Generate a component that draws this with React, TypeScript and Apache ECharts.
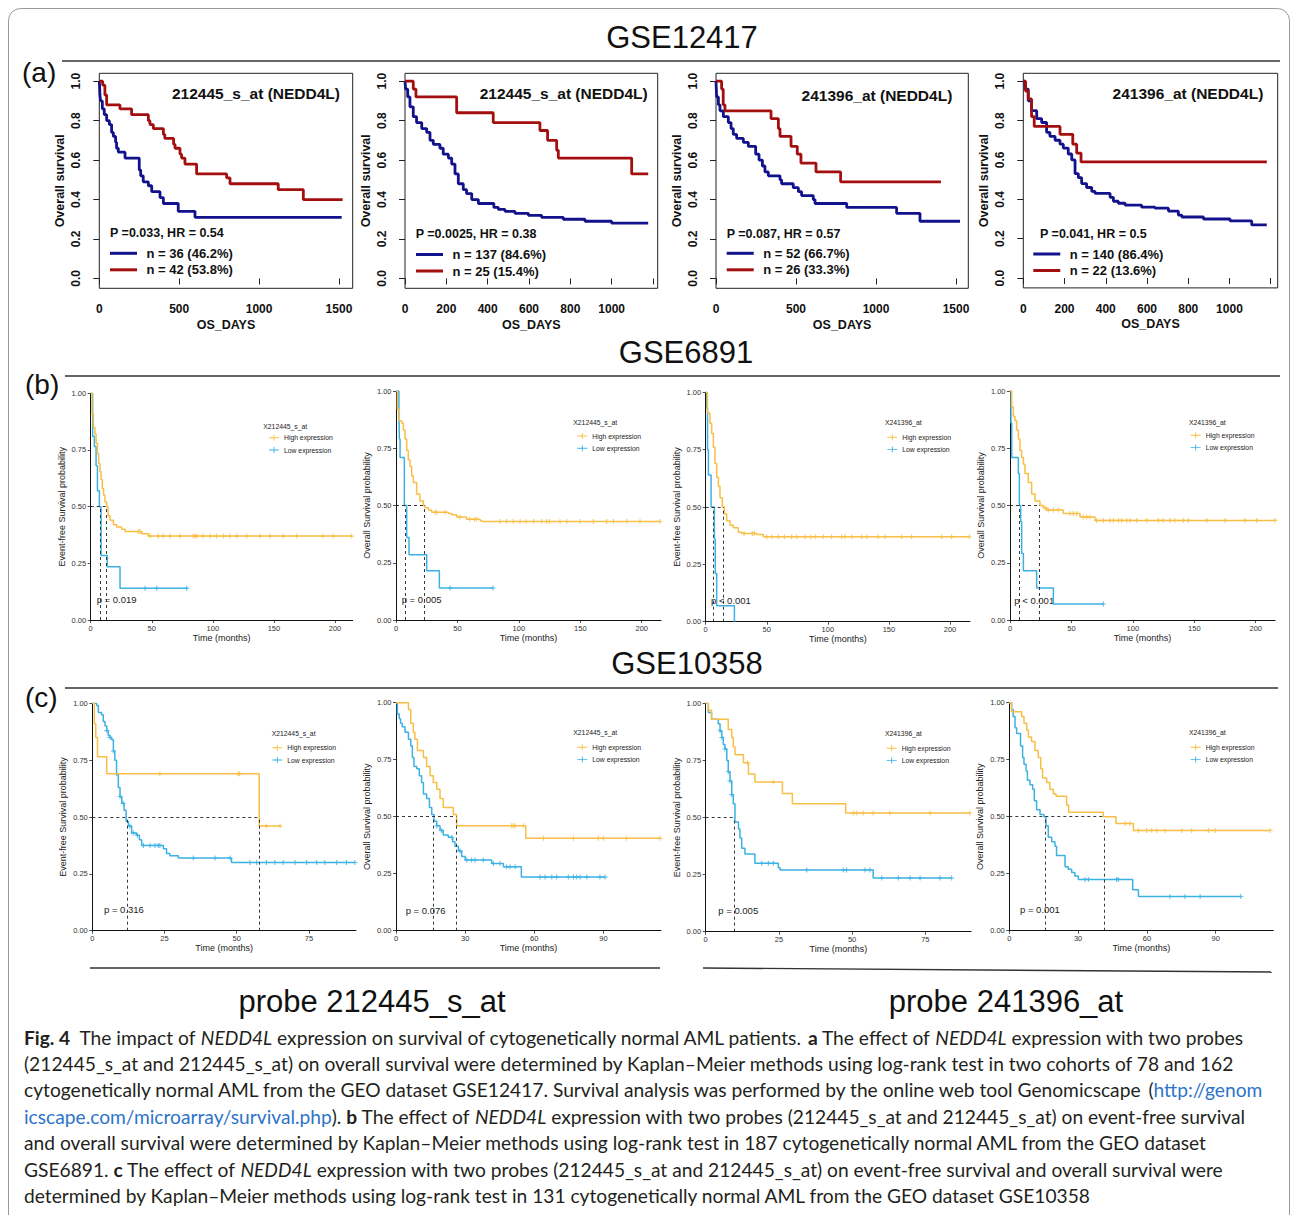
import React, { useEffect, useRef } from 'react';
import * as echarts from 'echarts';

const FONT = "'Liberation Sans', Arial, sans-serif";
const CAP_FONT = "Lato, 'Liberation Sans', sans-serif";
const BLUE_A = '#12128c';
const RED_A = '#a30f0f';
const YEL = '#f8be45';
const BLU = '#3bb2e3';

// ---------- (a) GSE12417 : [days, survival] ----------
const a1Blue = [[0,1],[2,0.97],[4,0.93],[8,0.90],[19,0.86],[31,0.83],[46,0.80],[63,0.78],[77,0.74],[88,0.72],[102,0.69],[108,0.66],[119,0.64],[161,0.61],[250,0.55],[259,0.52],[275,0.49],[307,0.47],[328,0.44],[380,0.41],[401,0.38],[494,0.34],[599,0.31],[1517,0.31]];
const a1Red = [[0,1],[21,0.98],[35,0.93],[46,0.88],[129,0.86],[202,0.83],[307,0.80],[317,0.78],[338,0.76],[401,0.73],[410,0.71],[465,0.68],[474,0.66],[505,0.63],[515,0.61],[536,0.58],[609,0.53],[797,0.51],[818,0.48],[1120,0.45],[1277,0.40],[1523,0.40]];
const a2Blue = [[0,1],[3,0.96],[13,0.92],[24,0.87],[40,0.82],[56,0.79],[81,0.76],[105,0.74],[121,0.70],[137,0.68],[169,0.66],[185,0.63],[210,0.61],[226,0.58],[242,0.53],[258,0.48],[282,0.45],[298,0.43],[323,0.40],[355,0.38],[430,0.36],[452,0.35],[484,0.34],[532,0.33],[597,0.32],[661,0.31],[766,0.30],[871,0.29],[1000,0.28],[1177,0.28]];
const a2Red = [[0,1],[40,0.96],[53,0.92],[250,0.84],[427,0.79],[653,0.75],[690,0.70],[734,0.65],[742,0.61],[1097,0.53],[1177,0.53]];
const a3Blue = [[0,1],[4,0.92],[15,0.88],[25,0.85],[46,0.82],[77,0.79],[94,0.76],[108,0.73],[129,0.71],[171,0.69],[202,0.67],[248,0.63],[269,0.60],[290,0.57],[306,0.54],[327,0.52],[400,0.50],[410,0.48],[483,0.46],[515,0.44],[535,0.42],[608,0.40],[619,0.38],[817,0.36],[1129,0.33],[1275,0.29],[1525,0.29]];
const a3Red = [[0,1],[35,0.96],[45,0.88],[56,0.85],[344,0.81],[390,0.76],[400,0.72],[469,0.67],[508,0.63],[531,0.585],[625,0.54],[779,0.49],[1406,0.49]];
const a4Blue = [[0,1],[8,0.96],[24,0.90],[40,0.85],[65,0.81],[89,0.79],[113,0.74],[129,0.72],[154,0.70],[178,0.68],[194,0.66],[218,0.63],[235,0.60],[251,0.53],[267,0.51],[283,0.48],[307,0.46],[332,0.44],[348,0.43],[421,0.41],[437,0.39],[461,0.38],[494,0.37],[574,0.36],[639,0.355],[704,0.34],[752,0.32],[769,0.31],[874,0.30],[1003,0.29],[1108,0.27],[1181,0.27]];
const a4Red = [[0,1],[11,0.95],[24,0.91],[40,0.82],[53,0.77],[178,0.73],[240,0.68],[259,0.635],[280,0.59],[1181,0.59]];

const aNames = [
  ['n = 36 (46.2%)', 'n = 42 (53.8%)'],
  ['n = 137 (84.6%)', 'n = 25 (15.4%)'],
  ['n = 52 (66.7%)', 'n = 26 (33.3%)'],
  ['n = 140 (86.4%)', 'n = 22 (13.6%)'],
];
const aTitles = ['212445_s_at (NEDD4L)', '212445_s_at (NEDD4L)', '241396_at (NEDD4L)', '241396_at (NEDD4L)'];
const aStats = ['P =0.033, HR = 0.54', 'P =0.0025, HR = 0.38', 'P =0.087, HR = 0.57', 'P =0.041, HR = 0.5'];
const aYTicks = [0, 0.2, 0.4, 0.6, 0.8, 1.0];
const aXTicks1500 = [0, 500, 1000, 1500];
const aXTicks1200 = [0, 200, 400, 600, 800, 1000, 1200];
const aXLabels1000 = [0, 200, 400, 600, 800, 1000];

// ---------- (b) GSE6891 : [months, survival] ----------
const b1High = [[0,1],[1.1,0.91],[2.2,0.85],[3.5,0.82],[4.4,0.78],[5.5,0.735],[6.5,0.69],[7.6,0.655],[8.5,0.62],[9.5,0.58],[10.6,0.55],[11.7,0.52],[13.1,0.50],[14.2,0.46],[15.8,0.44],[18.6,0.42],[21.3,0.41],[25.4,0.40],[28.1,0.39],[41.7,0.38],[47.2,0.37],[213.6,0.37]];
const b1HighCens = [39,40.5,48.6,55.4,59.5,65,73,84,85.5,86.8,92,97.7,103,108.6,114,119.5,127.7,138.6,146.8,157.7,168.6,190,198.6,213.6];
const b1Low = [[0,1],[1.6,0.81],[3,0.765],[4.4,0.68],[5.5,0.57],[7.1,0.50],[8.5,0.285],[13.6,0.235],[24,0.14],[79.4,0.14]];
const b1LowCens = [44.5,54,78.6];
const b1Medians = [7.6, 13.1];

const b2High = [[0,1],[1.1,0.92],[2.7,0.87],[4.6,0.86],[6,0.83],[7.3,0.79],[8.7,0.74],[10,0.70],[11.4,0.67],[12.8,0.63],[14.1,0.60],[16.8,0.55],[19.5,0.52],[22.3,0.50],[23.6,0.49],[26.3,0.48],[29,0.47],[42.6,0.465],[45.3,0.46],[49.4,0.45],[57.5,0.44],[68.4,0.435],[69.7,0.43],[215,0.43]];
const b2HighCens = [31.7,33,40,52,60,64,65.6,84.7,90,95.5,101,106,112,118.6,122.7,125,133.5,139,149.8,160.6,171.5,177,187.8,198.6,215];
const b2Low = [[0,1],[2.4,0.93],[2.7,0.79],[3.3,0.71],[6.8,0.50],[8.7,0.36],[10.6,0.285],[25,0.215],[35.3,0.14],[79.2,0.14]];
const b2LowCens = [44,79];
const b2Medians = [7.3, 22.8];

const b3High = [[0,1],[1.4,0.91],[3.5,0.865],[4.9,0.82],[6.3,0.76],[7.6,0.69],[9,0.63],[10.4,0.59],[11.7,0.54],[13.6,0.50],[15.3,0.47],[17.2,0.44],[19.9,0.42],[22.6,0.41],[26.7,0.39],[29.5,0.385],[41.7,0.38],[47.2,0.37],[216,0.37]];
const b3HighCens = [31.4,38.2,39.8,49.9,54,59.5,64.4,70.4,74.5,81.3,86,90,96.3,103.1,111.3,114,119.5,127.7,131.8,141.3,146.8,160.4,168.6,193.2,201.4,216];
const b3Low = [[0,1],[0.8,0.93],[1.5,0.75],[2.2,0.64],[4.4,0.50],[7.1,0.36],[7.8,0.21],[9,0.07],[23.5,0]];
const b3LowCens: number[] = [];
const b3Medians = [6.3, 14.5];

const b4High = [[0,1],[1.4,0.93],[2.7,0.89],[4,0.87],[5.4,0.83],[6.8,0.79],[8.1,0.74],[9.5,0.71],[10.9,0.68],[12.2,0.64],[14.9,0.60],[17.6,0.55],[20.4,0.52],[24.4,0.50],[27.1,0.49],[29.9,0.48],[43.4,0.465],[57,0.45],[69.2,0.435],[215.7,0.435]];
const b4HighCens = [28.5,31.2,35.3,39.3,48.8,51.6,54.3,59.7,62.4,65.1,70.6,76,81.4,84.1,88.2,90.9,95,97.7,103.1,111.3,120.8,124.8,130.3,134.3,141.1,145.2,160.1,175,191.3,200.8,215.7];
const b4Low = [[0,1],[0.8,0.86],[1.4,0.71],[6.8,0.64],[7.6,0.50],[8.7,0.43],[9.5,0.29],[10.9,0.215],[21.7,0.14],[35.3,0.07],[76,0.07]];
const b4LowCens = [76];
const b4Medians = [7.6, 23.9];

// ---------- (c) GSE10358 ----------
const c1High = [[0,1],[0.7,0.91],[1.2,0.85],[1.8,0.765],[5,0.69],[57.8,0.46],[65.3,0.46]];
const c1HighCens = [23.4,50.5,51,60.3,65];
const c1Low = [[0,1],[1.5,0.99],[2.1,0.96],[3.2,0.95],[3.8,0.92],[4.4,0.90],[5,0.88],[5.5,0.86],[6.1,0.85],[6.7,0.84],[7.3,0.79],[7.8,0.75],[8.4,0.69],[9,0.63],[9.6,0.59],[10.2,0.56],[11,0.53],[11.7,0.48],[12.5,0.46],[13.6,0.43],[15.3,0.42],[16.3,0.40],[17.1,0.375],[24.6,0.36],[25.7,0.34],[26.9,0.33],[29.8,0.32],[48.2,0.30],[90.9,0.30]];
const c1LowCens = [5,6.1,7.3,8.4,9.6,10.7,13,14.2,15.6,17.7,20,21.7,22.8,23.4,35,42.5,47.7,54.6,56.9,60.3,63.2,66.1,70.2,74.2,77.7,80.5,84.6,88,90.9];
const c1Medians = [12.1, 57.8];

const c2High = [[0,1],[5.4,0.97],[6.4,0.91],[7.5,0.87],[8.2,0.84],[9.3,0.79],[11.9,0.76],[13.3,0.72],[14.8,0.68],[16.2,0.65],[17.7,0.62],[19.1,0.58],[20.5,0.54],[24.9,0.51],[26.3,0.46],[56.3,0.405],[114.6,0.405]];
const c2HighCens = [50.2,51,51.7,55.3,64,77,87.8,90,100,114.6];
const c2Low = [[0,1],[0.6,0.95],[1.4,0.93],[2,0.91],[2.7,0.895],[3.9,0.87],[5.4,0.84],[6.4,0.81],[7.1,0.76],[7.8,0.72],[9,0.71],[10.1,0.68],[11.1,0.65],[11.9,0.60],[13.3,0.58],[14.5,0.54],[15.5,0.51],[16.5,0.48],[17.7,0.46],[19.1,0.44],[20.5,0.42],[22.7,0.41],[24.6,0.39],[25.6,0.37],[27.1,0.35],[28.5,0.325],[30,0.31],[41.5,0.295],[46.6,0.28],[54.4,0.235],[90.7,0.235]];
const c2LowCens = [17.7,19.8,24.2,27.8,30.7,32.8,34.3,37.9,42.3,45.1,48,49.5,51.7,62.5,64.7,67.6,69.7,74.8,77,78.4,79.9,82.8,88.5,90.7];
const c2Medians = [16.2, 26.3];

const c3High = [[0,1],[0.9,0.97],[2,0.93],[7.7,0.885],[8.9,0.85],[9.4,0.81],[10,0.775],[12.9,0.74],[14.6,0.69],[16.8,0.655],[26.2,0.605],[29.6,0.56],[47.8,0.52],[90.2,0.52]];
const c3HighCens = [14.3,23.1,50.4,51.6,53.8,57.2,62.9,76.6,90.2];
const c3Low = [[0,1],[0.9,0.96],[2,0.93],[4.3,0.91],[4.9,0.88],[5.5,0.85],[6,0.82],[6.6,0.80],[7.2,0.75],[7.7,0.70],[8.3,0.66],[8.9,0.60],[9.4,0.56],[10,0.48],[11.2,0.45],[11.7,0.41],[12.3,0.365],[13.4,0.34],[16.8,0.30],[24.8,0.28],[25.4,0.27],[57.2,0.235],[84,0.235]];
const c3LowCens = [4.9,5.5,6.6,7.7,8.3,8.9,19.1,21.4,23.1,34.5,47,48.1,54.4,56.1,60.1,65.8,69.8,73.2,80,84];
const c3Medians = [9.8];

const c4High = [[0,1],[1,0.96],[5.4,0.94],[6.4,0.91],[7.6,0.88],[8.3,0.85],[9.7,0.83],[11.2,0.79],[12.6,0.76],[13.7,0.71],[14.5,0.67],[16.3,0.65],[17.7,0.62],[19.2,0.60],[20.4,0.59],[25,0.55],[25.9,0.52],[41,0.50],[46.5,0.47],[54.1,0.44],[113.7,0.44]];
const c4HighCens = [50.5,52.6,56.3,59.9,62.1,64.3,67.9,75.2,79.5,86.8,89.7,113.7];
const c4Low = [[0,1],[1,0.97],[1.7,0.94],[2.5,0.89],[3.2,0.865],[4.9,0.81],[5.8,0.76],[6.4,0.73],[7.3,0.70],[7.9,0.66],[9,0.64],[10.2,0.62],[10.9,0.57],[11.9,0.53],[13.4,0.51],[15.1,0.50],[16,0.46],[17,0.41],[18.5,0.39],[19.9,0.37],[20.6,0.33],[24.3,0.28],[25.7,0.27],[27.2,0.255],[28.6,0.24],[30.1,0.225],[53.8,0.18],[56.3,0.15],[100.9,0.15]];
const c4LowCens = [33,34.5,46.8,47.5,70,76.6,83.2,100.9];
const c4Medians = [15.6, 41.3];

const bTicks = [0, 50, 100, 150, 200];
const c25Ticks = [0, 25, 50, 75];
const c30Ticks = [0, 30, 60, 90];
const efsName = 'Event-free Survival probability';
const osName = 'Overall Survival probability';
const probe1 = 'X212445_s_at';
const probe2 = 'X241396_at';
const pValues = ['p = 0.019', 'p = 0.005', 'p < 0.001', 'p < 0.001', 'p = 0.316', 'p = 0.076', 'p = 0.005', 'p = 0.001'];

// ---------- layout ----------
const layoutA = [
  { left: 99.3, top: 73.3, width: 253.4, height: 215, xMax: 1586, ticks: aXTicks1500, labels: aXTicks1500, titleX: 340, titleY: 93.3, pX: 110, pY: 233, legX: 110, legY: 245.8 },
  { left: 405, top: 73.3, width: 252.7, height: 215, xMax: 1223, ticks: aXTicks1200, labels: aXLabels1000, titleX: 647.7, titleY: 93.3, pX: 415.7, pY: 234, legX: 416, legY: 247 },
  { left: 716, top: 73.3, width: 252.3, height: 215, xMax: 1577, ticks: aXTicks1500, labels: aXTicks1500, titleX: 952.3, titleY: 95, pX: 726.7, pY: 234, legX: 726.7, legY: 245.8 },
  { left: 1023.3, top: 73.3, width: 254.4, height: 214.6, xMax: 1234, ticks: aXTicks1200, labels: aXLabels1000, titleX: 1263.3, titleY: 93.3, pX: 1040, pY: 234, legX: 1033.3, legY: 246.5 },
];
const aCurves = [[a1Blue, a1Red], [a2Blue, a2Red], [a3Blue, a3Red], [a4Blue, a4Red]];

const panelsBC = [
  { high: b1High, hc: b1HighCens, low: b1Low, lc: b1LowCens, med: b1Medians, yName: efsName, probe: probe1, ticks: bTicks, left: 90.7, top: 393.3, width: 262, height: 226.7, xMax: 214.5, legTX: 263.3, legTY: 426, legX: 269, legY: 431.7, pX: 96.7, pY: 599 },
  { high: b2High, hc: b2HighCens, low: b2Low, lc: b2LowCens, med: b2Medians, yName: osName, probe: probe1, ticks: bTicks, left: 396, top: 391, width: 265, height: 229, xMax: 215.7, legTX: 573.3, legTY: 422.3, legX: 577.3, legY: 430, pX: 401.7, pY: 599 },
  { high: b3High, hc: b3HighCens, low: b3Low, lc: b3LowCens, med: b3Medians, yName: efsName, probe: probe2, ticks: bTicks, left: 705.7, top: 392.3, width: 264.3, height: 229.4, xMax: 216.4, legTX: 885, legTY: 422.7, legX: 887.3, legY: 431.3, pX: 711, pY: 600 },
  { high: b4High, hc: b4HighCens, low: b4Low, lc: b4LowCens, med: b4Medians, yName: osName, probe: probe2, ticks: bTicks, left: 1010, top: 391, width: 265, height: 229, xMax: 215.7, legTX: 1189, legTY: 422.7, legX: 1190.7, legY: 429.3, pX: 1014.3, pY: 600 },
  { high: c1High, hc: c1HighCens, low: c1Low, lc: c1LowCens, med: c1Medians, yName: efsName, probe: probe1, ticks: c25Ticks, left: 92.3, top: 703.3, width: 263.7, height: 227.4, xMax: 91.3, legTX: 271.7, legTY: 733.3, legX: 272.3, legY: 741.7, pX: 104, pY: 909.3 },
  { high: c2High, hc: c2HighCens, low: c2Low, lc: c2LowCens, med: c2Medians, yName: osName, probe: probe1, ticks: c30Ticks, left: 396, top: 702.7, width: 265, height: 228, xMax: 115, legTX: 573.3, legTY: 732.3, legX: 577.3, legY: 741.3, pX: 405.7, pY: 910 },
  { high: c3High, hc: c3HighCens, low: c3Low, lc: c3LowCens, med: c3Medians, yName: efsName, probe: probe2, ticks: c25Ticks, left: 705.7, top: 703.3, width: 265.3, height: 228.4, xMax: 90.6, legTX: 885, legTY: 733.3, legX: 886.7, legY: 742.3, pX: 718.3, pY: 910 },
  { high: c4High, hc: c4HighCens, low: c4Low, lc: c4LowCens, med: c4Medians, yName: osName, probe: probe2, ticks: c30Ticks, left: 1009.3, top: 702.7, width: 264, height: 228, xMax: 115.1, legTX: 1189, legTY: 732.7, legX: 1190.7, legY: 741.3, pX: 1020, pY: 909.3 },
];

const captionLines = [
  '{b|Fig. 4}  The impact of {i|NEDD4L} expression on survival of cytogenetically normal AML patients. {b|a} The effect of {i|NEDD4L} expression with two probes',
  '(212445_s_at and 212445_s_at) on overall survival were determined by Kaplan–Meier methods using log-rank test in two cohorts of 78 and 162',
  'cytogenetically normal AML from the GEO dataset GSE12417. Survival analysis was performed by the online web tool Genomicscape {k|(}{u|http://genom}',
  '{u|icscape.com/microarray/survival.php}). {b|b} The effect of {i|NEDD4L} expression with two probes (212445_s_at and 212445_s_at) on event-free survival',
  'and overall survival were determined by Kaplan–Meier methods using log-rank test in 187 cytogenetically normal AML from the GEO dataset',
  'GSE6891. {b|c} The effect of {i|NEDD4L} expression with two probes (212445_s_at and 212445_s_at) on event-free survival and overall survival were',
  'determined by Kaplan–Meier methods using log-rank test in 131 cytogenetically normal AML from the GEO dataset GSE10358',
];

const PLUS = 'path://M-0.22,-1H0.22V-0.22H1V0.22H0.22V1H-0.22V0.22H-1V-0.22H-0.22Z';
const LEG_ICON = 'path://M0,2.55H10V3.45H0ZM4.55,0H5.45V6H4.55Z';

function stepValue(curve: number[][], t: number) {
  let v = curve[0][1];
  for (const p of curve) {
    if (p[0] <= t) v = p[1];
    else break;
  }
  return v;
}

function buildOption() {
  const grid: any[] = [];
  const xAxis: any[] = [];
  const yAxis: any[] = [];
  const series: any[] = [];
  const legend: any[] = [];
  const graphic: any[] = [];
  let gi = 0;

  const txt = (x: number, y: number, text: string, s: any) => ({
    type: 'text', x, y, silent: true,
    style: Object.assign({ text, fontFamily: FONT, fill: '#111', verticalAlign: 'middle', align: 'left' }, s),
  });

  // ----- row (a) -----
  layoutA.forEach((L, i) => {
    grid.push({ left: L.left, top: L.top, width: L.width, height: L.height, show: true, borderColor: '#222', borderWidth: 1, backgroundColor: 'transparent', outerBoundsMode: 'none' });
    xAxis.push({
      type: 'value', gridIndex: gi, min: 0, max: L.xMax,
      axisLine: { show: false }, splitLine: { show: false },
      axisTick: { show: true, length: 6, customValues: L.ticks, lineStyle: { color: '#222', width: 1 } },
      axisLabel: { customValues: L.labels, margin: 15, fontSize: 12, fontWeight: 'bold', color: '#111', fontFamily: FONT, formatter: (v: number) => String(Math.round(v)) },
      name: 'OS_DAYS', nameLocation: 'middle', nameGap: 30,
      nameTextStyle: { fontSize: 12.5, fontWeight: 'bold', color: '#111', fontFamily: FONT },
    });
    yAxis.push({
      type: 'value', gridIndex: gi, min: -0.05, max: 1.04,
      axisLine: { show: false }, splitLine: { show: false },
      axisTick: { show: true, length: 6, customValues: aYTicks, lineStyle: { color: '#222', width: 1 } },
      axisLabel: { customValues: aYTicks, rotate: 90, margin: 17, fontSize: 12, fontWeight: 'bold', color: '#111', fontFamily: FONT, formatter: (v: number) => v.toFixed(1) },
      name: 'Overall survival', nameLocation: 'middle', nameGap: 33,
      nameTextStyle: { fontSize: 12.5, fontWeight: 'bold', color: '#111', fontFamily: FONT },
    });
    const [blue, red] = aCurves[i];
    series.push({ type: 'line', name: aNames[i][0], xAxisIndex: gi, yAxisIndex: gi, data: blue, step: 'end', symbol: 'none', showSymbol: false, silent: true, color: BLUE_A, itemStyle: { color: BLUE_A }, lineStyle: { width: 2.8, color: BLUE_A } });
    series.push({ type: 'line', name: aNames[i][1], xAxisIndex: gi, yAxisIndex: gi, data: red, step: 'end', symbol: 'none', showSymbol: false, silent: true, color: RED_A, itemStyle: { color: RED_A }, lineStyle: { width: 2.8, color: RED_A } });
    legend.push({
      show: true, left: L.legX, top: L.legY, orient: 'vertical', padding: 0, itemGap: 1.5,
      itemWidth: 27, itemHeight: 3, icon: 'rect', selectedMode: false,
      data: [
        { name: aNames[i][0], itemStyle: { color: BLUE_A, borderWidth: 0 } },
        { name: aNames[i][1], itemStyle: { color: RED_A, borderWidth: 0 } },
      ],
      itemStyle: { borderWidth: 0 },
      textStyle: { fontSize: 13, fontWeight: 'bold', fontFamily: FONT, color: '#111', lineHeight: 15, padding: [0, 0, 0, 4.5] },
    });
    graphic.push(txt(L.titleX, L.titleY, aTitles[i], { fontSize: 15.5, fontWeight: 'bold', align: 'right' }));
    graphic.push(txt(L.pX, L.pY, aStats[i], { fontSize: 12.5, fontWeight: 'bold' }));
    gi++;
  });

  // ----- rows (b), (c) -----
  panelsBC.forEach((P, i) => {
    grid.push({ left: P.left, top: P.top, width: P.width, height: P.height, show: false, outerBoundsMode: 'none' });
    xAxis.push({
      type: 'value', gridIndex: gi, min: 0, max: P.xMax,
      axisLine: { show: true, lineStyle: { color: '#111', width: 1 } }, splitLine: { show: false },
      axisTick: { show: true, length: 3, customValues: P.ticks, lineStyle: { color: '#222', width: 0.8 } },
      axisLabel: { customValues: P.ticks, margin: 4, fontSize: 7.5, color: '#333', fontFamily: FONT },
      name: 'Time (months)', nameLocation: 'middle', nameGap: 13,
      nameTextStyle: { fontSize: 9, color: '#222', fontFamily: FONT },
    });
    yAxis.push({
      type: 'value', gridIndex: gi, min: 0, max: 1, interval: 0.25,
      axisLine: { show: true, lineStyle: { color: '#111', width: 1 } }, splitLine: { show: false },
      axisTick: { show: true, length: 3, lineStyle: { color: '#222', width: 0.8 } },
      axisLabel: { margin: 4.5, fontSize: 7.5, color: '#333', fontFamily: FONT, formatter: (v: number) => v.toFixed(2) },
      name: P.yName, nameLocation: 'middle', nameGap: 24.5,
      nameTextStyle: { fontSize: 9, color: '#222', fontFamily: FONT },
    });
    const maxMed = Math.max(...P.med);
    const ml: any[] = [[{ coord: [0, 0.5] }, { coord: [maxMed, 0.5] }]];
    P.med.forEach((m) => ml.push([{ coord: [m, 0] }, { coord: [m, 0.5] }]));
    series.push({ type: 'line', name: 'Low expression', xAxisIndex: gi, yAxisIndex: gi, data: P.low, step: 'end', symbol: 'none', showSymbol: false, silent: true, color: BLU, itemStyle: { color: BLU }, lineStyle: { width: 1.5, color: BLU } });
    series.push({
      type: 'line', name: 'High expression', xAxisIndex: gi, yAxisIndex: gi, data: P.high, step: 'end', symbol: 'none', showSymbol: false, silent: true, color: YEL, itemStyle: { color: YEL }, lineStyle: { width: 1.5, color: YEL },
      markLine: { silent: true, symbol: 'none', label: { show: false }, lineStyle: { type: [3, 3], color: '#222', width: 0.9 }, data: ml },
    });
    series.push({ type: 'scatter', name: 'High censor ' + i, xAxisIndex: gi, yAxisIndex: gi, silent: true, symbol: PLUS, symbolSize: [5, 5], itemStyle: { color: YEL }, data: P.hc.map((t) => [t, stepValue(P.high, t)]) });
    series.push({ type: 'scatter', name: 'Low censor ' + i, xAxisIndex: gi, yAxisIndex: gi, silent: true, symbol: PLUS, symbolSize: [5, 5], itemStyle: { color: BLU }, data: P.lc.map((t) => [t, stepValue(P.low, t)]) });
    legend.push({
      show: true, left: P.legX, top: P.legY, orient: 'vertical', padding: 0, itemGap: 0.3,
      itemWidth: 10, itemHeight: 6, icon: LEG_ICON, selectedMode: false,
      data: [
        { name: 'High expression', itemStyle: { color: YEL, borderWidth: 0 }, textStyle: { color: '#222' } },
        { name: 'Low expression', itemStyle: { color: BLU, borderWidth: 0 }, textStyle: { color: '#222' } },
      ],
      itemStyle: { borderWidth: 0 },
      textStyle: { fontSize: 6.8, fontFamily: FONT, color: '#222', lineHeight: 12 },
    });
    graphic.push(txt(P.legTX, P.legTY, P.probe, { fontSize: 6.8, fill: '#222' }));
    graphic.push(txt(P.pX, P.pY, pValues[i], { fontSize: 9.5, fill: '#222' }));
    gi++;
  });

  // ----- frame, headings, rules -----
  graphic.push({ type: 'rect', silent: true, z: -10, shape: { x: 8.5, y: 8.5, width: 1281, height: 1250, r: 12 }, style: { fill: 'none', stroke: '#9a9a9a', lineWidth: 1 } });
  const heads = [['GSE12417', 682, 37], ['GSE6891', 686, 352], ['GSE10358', 687, 663]];
  heads.forEach((h) => graphic.push(txt(h[1] as number, h[2] as number, h[0] as string, { fontSize: 31, align: 'center' })));
  const rules = [[62, 61, 1280, 61], [65, 376, 1280, 376], [65, 688, 1278, 688], [90, 968, 660, 968], [703, 968, 1272, 972]];
  rules.forEach((r) => graphic.push({ type: 'line', silent: true, shape: { x1: r[0], y1: r[1], x2: r[2], y2: r[3] }, style: { stroke: '#333', lineWidth: 1.4 } }));
  graphic.push(txt(22, 72, '(a)', { fontSize: 28 }));
  graphic.push(txt(25, 384, '(b)', { fontSize: 28 }));
  graphic.push(txt(25, 697, '(c)', { fontSize: 28 }));
  graphic.push(txt(372, 1001, 'probe 212445_s_at', { fontSize: 31, align: 'center' }));
  graphic.push(txt(1006, 1001, 'probe 241396_at', { fontSize: 31, align: 'center' }));

  // ----- caption -----
  const capSize = 19.2;
  const base = { fontSize: capSize, fontFamily: CAP_FONT, fill: '#231f20' };
  const rich = {
    b: Object.assign({}, base, { fontWeight: 'bold' }),
    i: Object.assign({}, base, { fontStyle: 'italic' }),
    k: Object.assign({}, base),
    u: Object.assign({}, base, { fill: '#2b74c9' }),
  };
  const capY = [1037, 1063, 1089, 1116, 1142, 1169, 1195];
  captionLines.forEach((line, k) => {
    graphic.push({ type: 'text', x: 24, y: capY[k], silent: true, style: Object.assign({ text: line, rich, verticalAlign: 'middle', align: 'left' }, base) });
  });

  return {
    animation: false,
    backgroundColor: '#ffffff',
    textStyle: { fontFamily: FONT },
    tooltip: { show: false },
    grid, xAxis, yAxis, series, legend, graphic,
  };
}

export default function App() {
  const ref = useRef<HTMLDivElement>(null);
  useEffect(() => {
    if (!ref.current) return;
    const chart = echarts.init(ref.current, null, { renderer: 'svg' });
    chart.setOption(buildOption() as any);
    return () => chart.dispose();
  }, []);
  return <div ref={ref} style={{ position: 'absolute', left: 0, top: 0, width: 1291, height: 1215 }} />;
}
